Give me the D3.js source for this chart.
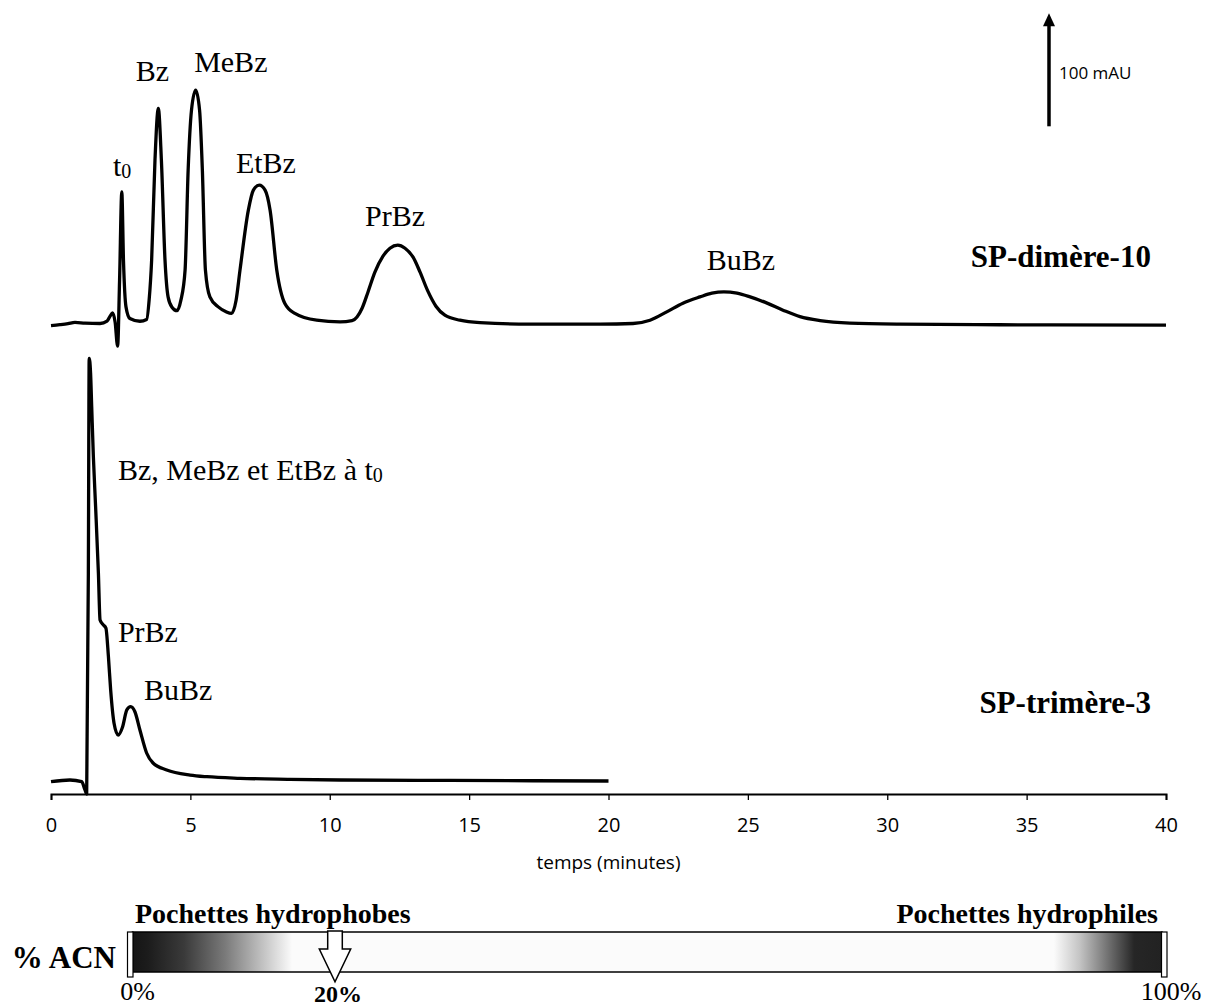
<!DOCTYPE html>
<html>
<head>
<meta charset="utf-8">
<script src="https://cdn.jsdelivr.net/npm/d3@7"></script>
<style>
  html, body { margin: 0; padding: 0; background: #fff; }
  svg { display: block; }
</style>
</head>
<body>
<svg id="chart" width="1208" height="1007"></svg>
<script>
// ---- Data -------------------------------------------------------------
// Time axis (minutes)
const timeDomain = [0, 40];
const timeTicks = [0, 5, 10, 15, 20, 25, 30, 35, 40];

// SP-dimère-10 chromatogram: retention time (min) and absorbance (mAU above its baseline)
const dimereTime = [0, 0.32, 0.61, 0.86, 1.22, 1.76, 2.01, 2.12, 2.21, 2.30, 2.39, 2.46, 2.54, 2.60, 2.69, 2.83,
  3.19, 3.43, 3.52, 3.61, 3.73, 3.85, 3.96, 4.09, 4.20, 4.34, 4.52, 4.66, 4.81, 4.92, 5.04, 5.19, 5.33, 5.43,
  5.54, 5.70, 6.00, 6.28, 6.48, 6.64, 6.78, 7.08, 7.26, 7.47, 7.68, 7.86, 8.10, 8.39, 8.75, 9.53, 10.37,
  10.80, 11.16, 11.37, 11.62, 11.91, 12.16, 12.44, 12.70, 12.99, 13.24, 13.52, 13.81, 14.13, 14.67, 15.39,
  17.18, 19.70, 20.88, 21.49, 22.09, 22.67, 23.28, 23.71, 24.14, 24.61, 25.08, 25.69, 26.26, 26.87, 27.59,
  28.66, 30.46, 34.04, 40];
const dimereSignal = [-0.4, 0.4, 1.3, 2.4, 1.8, 1.5, 3.5, 8.0, 10.9, 2.7, -18.6, 39.8, 118, 57.5, 16.2, 5.9,
  3.5, 5.0, 22.1, 57.5, 146, 191.8, 146, 57.5, 25, 15.9, 12.8, 22.1, 48.7, 137.2, 190.3, 208, 190.3, 137.2,
  48.7, 25, 16.2, 11.9, 10.4, 22.1, 48.7, 101.8, 119.5, 123.9, 119.5, 101.8, 48.7, 19.2, 10.4, 4.4, 2.9,
  4.0, 15.0, 29.2, 46.9, 61.1, 68.1, 70.8, 68.1, 60.2, 46.9, 30.1, 16.8, 8.8, 4.4, 2.2,
  0.9, 0.9, 1.5, 4.4, 11.8, 19.5, 25.0, 28.3, 29.5, 28.3, 25.0, 19.5, 13.3, 7.5, 4.0,
  1.8, 0.9, 0.4, 0];

// SP-trimère-3 chromatogram (recorded up to 20 min)
const trimereTime = [0, 0.68, 1.10, 1.22, 1.28, 1.34, 1.37, 1.42, 1.46, 1.52, 1.60, 1.70, 1.76, 1.88, 1.97,
  2.06, 2.14, 2.26, 2.41, 2.57, 2.72, 2.86, 3.01, 3.19, 3.43, 3.67, 4.15, 4.99, 5.59, 6.78, 8.57, 10.37,
  14.31, 20];
const trimereSignal = [0, 1.5, 0, -7.3, -10.9, 184.7, 374.7, 361.7, 331.9, 287.6, 243.4, 184.7, 143.1, 138.7, 136,
  110.6, 81.2, 52.0, 41.3, 48.7, 63.5, 66.4, 61.9, 45.8, 25.4, 16.3, 10.4, 5.9, 4.4, 3.0, 2.1, 1.5,
  1.1, 0.6];

// Vertical stacking of the two traces (mAU)
const dimereOffset = 414;
const trimereOffset = 10;
const scaleBarBase = 590;
const scaleBarLength = 100; // mAU

// Acetonitrile gradient bar
const acnTicks = [0, 100];
const acnMarker = 20;

// ---- Layout -----------------------------------------------------------
const svg = d3.select("#chart");
const serif = "'Liberation Serif', 'Times New Roman', serif";
const sans = "'Open Sans', 'Liberation Sans', sans-serif";

const x = d3.scaleLinear().domain(timeDomain).range([51, 1166]);
const y = d3.scaleLinear().domain([0, 700]).range([793, 2]);

// ---- Traces -----------------------------------------------------------
const line = d3.line()
  .x(d => x(d[0]))
  .y(d => y(d[1]))
  .curve(d3.curveMonotoneX);

const dimere = dimereTime.map((t, i) => [t, dimereSignal[i] + dimereOffset]);
const trimere = trimereTime.map((t, i) => [t, trimereSignal[i] + trimereOffset]);

svg.append("path").datum(dimere)
  .attr("d", line).attr("fill", "none").attr("stroke", "#000")
  .attr("stroke-width", 3.3).attr("stroke-linejoin", "round");
svg.append("path").datum(trimere)
  .attr("d", line).attr("fill", "none").attr("stroke", "#000")
  .attr("stroke-width", 3.3).attr("stroke-linejoin", "round");

// ---- Time axis --------------------------------------------------------
const axis = svg.append("g")
  .attr("transform", "translate(0,794)")
  .call(d3.axisBottom(x).tickValues(timeTicks).tickSize(6).tickSizeOuter(6).tickPadding(18));
axis.select(".domain").attr("stroke", "#000").attr("stroke-width", 2);
axis.selectAll(".tick line").attr("stroke", "#000").attr("stroke-width", 1.3);
axis.selectAll(".tick text").attr("font-family", sans).attr("font-size", 20).attr("fill", "#000");

svg.append("text")
  .attr("x", x(20)).attr("y", 869)
  .attr("text-anchor", "middle")
  .attr("font-family", sans).attr("font-size", 19)
  .text("temps (minutes)");

// ---- 100 mAU scale arrow ---------------------------------------------
const defs = svg.append("defs");
const barTopY = y(scaleBarBase + scaleBarLength);
svg.append("line")
  .attr("x1", 1049).attr("x2", 1049)
  .attr("y1", y(scaleBarBase)).attr("y2", barTopY + 11)
  .attr("stroke", "#000").attr("stroke-width", 3.5);
svg.append("path")
  .attr("d", `M${1049 - 6},${barTopY + 13} L1049,${barTopY} L${1049 + 6},${barTopY + 13} Z`)
  .attr("fill", "#000");
svg.append("text")
  .attr("x", 1059).attr("y", 79)
  .attr("font-family", sans).attr("font-size", 17)
  .text("100 mAU");

// ---- Peak labels ------------------------------------------------------
function label(txt, t, mau, anchor, size, weight) {
  return svg.append("text")
    .attr("x", x(t)).attr("y", y(mau))
    .attr("text-anchor", anchor || "middle")
    .attr("font-family", serif)
    .attr("font-size", size || 30)
    .attr("font-weight", weight || "normal")
    .text(txt);
}

const t0 = label("t", 2.55, 546, "middle");
t0.append("tspan").attr("font-size", 20).attr("dy", 2).text("0");

label("Bz", 3.64, 630);
label("MeBz", 6.45, 638);
label("EtBz", 7.71, 548.7);
label("PrBz", 12.34, 501.8);
label("BuBz", 24.75, 463);
label("SP-dimère-10", 39.46, 465.5, "end", 31, "bold");

const allT0 = label("Bz, MeBz et EtBz à t", 2.4, 277, "start");
allT0.append("tspan").attr("font-size", 20).attr("dy", 2).text("0");
label("PrBz", 2.4, 133.6, "start");
label("BuBz", 3.34, 82.3, "start");
label("SP-trimère-3", 39.46, 71, "end", 31, "bold");

// ---- % ACN gradient bar -----------------------------------------------
const acn = d3.scaleLinear().domain([0, 100]).range([127.5, 1165]);
const barTop = 932, barH = 40;

const grad = defs.append("linearGradient").attr("id", "acnGrad")
  .attr("x1", "0%").attr("x2", "100%").attr("y1", "0%").attr("y2", "0%");
[["0%", "#151515"], ["1.5%", "#1c1c1c"], ["5%", "#3a3a3a"], ["9%", "#7a7a7a"], ["13%", "#c9c9c9"],
 ["15.5%", "#fbfbfb"], ["89.5%", "#fbfbfb"], ["92%", "#c4c4c4"], ["95%", "#6a6a6a"], ["97.3%", "#262626"],
 ["100%", "#222"]].forEach(([o, c]) => grad.append("stop").attr("offset", o).attr("stop-color", c));

svg.append("rect")
  .attr("x", acn(0) + 5).attr("y", barTop)
  .attr("width", acn(100) - acn(0) - 8).attr("height", barH)
  .attr("fill", "url(#acnGrad)").attr("stroke", "#000").attr("stroke-width", 1.5);

// end caps
acnTicks.forEach(v => {
  svg.append("rect")
    .attr("x", v === 0 ? acn(0) : acn(100) - 3.5).attr("y", barTop)
    .attr("width", 5.5).attr("height", barH + 5)
    .attr("fill", "#fff").attr("stroke", "#000").attr("stroke-width", 1.2);
});

// 20 % marker arrow
const ax = acn(acnMarker);
svg.append("path")
  .attr("d", `M${ax - 7.3},${barTop - 1} L${ax + 7.3},${barTop - 1} L${ax + 7.3},949 L${ax + 15.7},949 L${ax},981.7 L${ax - 15.7},949 L${ax - 7.3},949 Z`)
  .attr("fill", "#fff").attr("stroke", "#000").attr("stroke-width", 1.5).attr("stroke-linejoin", "miter");

svg.append("text").attr("x", 116).attr("y", 968).attr("text-anchor", "end")
  .attr("font-family", serif).attr("font-size", 31).attr("font-weight", "bold").text("% ACN");
svg.append("text").attr("x", 135).attr("y", 923)
  .attr("font-family", serif).attr("font-size", 28).attr("font-weight", "bold").text("Pochettes hydrophobes");
svg.append("text").attr("x", 1158).attr("y", 923).attr("text-anchor", "end")
  .attr("font-family", serif).attr("font-size", 28).attr("font-weight", "bold").text("Pochettes hydrophiles");

svg.append("text").attr("x", acn(0) + 10).attr("y", 1000).attr("text-anchor", "middle")
  .attr("font-family", serif).attr("font-size", 26).text(acnTicks[0] + "%");
svg.append("text").attr("x", acn(100) + 6).attr("y", 1000).attr("text-anchor", "middle")
  .attr("font-family", serif).attr("font-size", 26).text(acnTicks[1] + "%");
svg.append("text").attr("x", ax + 3).attr("y", 1002).attr("text-anchor", "middle")
  .attr("font-family", serif).attr("font-size", 24).attr("font-weight", "bold").text(acnMarker + "%");
</script>
</body>
</html>
